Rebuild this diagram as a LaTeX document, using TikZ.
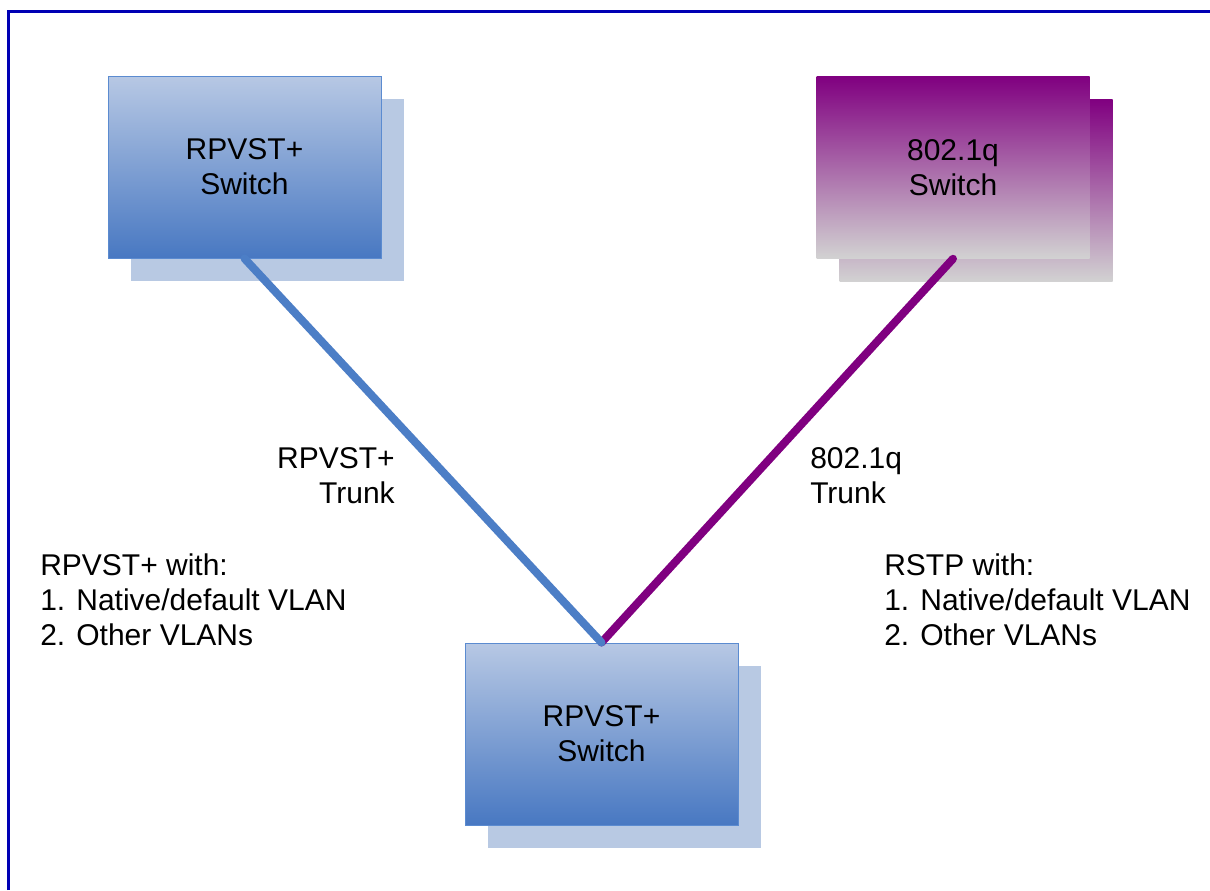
\documentclass[tikz,border=0pt]{standalone}
\usepackage{fontspec}
\setmainfont{Liberation Sans}
\usetikzlibrary{positioning}
\definecolor{frameblue}{RGB}{0,0,180}
\definecolor{boxtop}{RGB}{183,200,228}
\definecolor{boxbot}{RGB}{72,120,194}
\definecolor{boxedge}{RGB}{91,139,208}
\definecolor{shadowblue}{RGB}{184,201,227}
\definecolor{linkblue}{RGB}{76,126,198}
\definecolor{linkpurple}{RGB}{128,0,128}
\definecolor{purplebot}{RGB}{210,210,210}

\begin{document}
\begin{tikzpicture}[x=0.75pt, y=-0.75pt, every node/.style={font=\fontsize{22.5}{26.25}\selectfont}]
\tikzset{
  switchbox/.style={minimum width=204.75pt, minimum height=136.5pt, inner sep=0pt, align=center},
  bluesw/.style={switchbox, top color=boxtop, bottom color=boxbot, draw=boxedge, line width=0.75pt},
  blueshadow/.style={switchbox, fill=shadowblue},
  purplesw/.style={switchbox, top color=linkpurple, bottom color=purplebot},
  link/.style={line width=6pt, line cap=round},
  note/.style={inner sep=0pt}
}
\useasboundingbox (0,0) rectangle (1210,890);

% Frame
\draw[frameblue, line width=2.25pt] (8.5,890) -- (8.5,11.5) -- (1210,11.5);

% Left switch
\node[blueshadow] (lshadow) at (267.5,189.5) {};
\node[bluesw] (lsw) at (244.5,167) {RPVST+\\Switch};

% Right switch
\node[purplesw] (rshadow) at (976,190.5) {};
\node[purplesw] (rsw) at (953,167.5) {802.1q\\Switch};

% Middle switch
\node[blueshadow] (mshadow) at (624.5,757) {};
\node[bluesw] (msw) at (601.5,734) {RPVST+\\Switch};

% Trunks
\draw[link, linkpurple] (rsw.south) -- (msw.north);
\draw[link, linkblue] (lsw.south) -- (msw.north);

\node[note, anchor=east, align=right] (ltrunk) at (395,476) {RPVST+\\Trunk};
\node[note, anchor=west, align=left] (rtrunk) at (810,476) {802.1q\\Trunk};

% Notes
\node[note, anchor=west, align=left] (lnote) at (40,600) {RPVST+ with:\\1. Native/default VLAN\\2. Other VLANs};
\node[note, anchor=west, align=left] (rnote) at (884,600) {RSTP with:\\1. Native/default VLAN\\2. Other VLANs};
\end{tikzpicture}
\end{document}
